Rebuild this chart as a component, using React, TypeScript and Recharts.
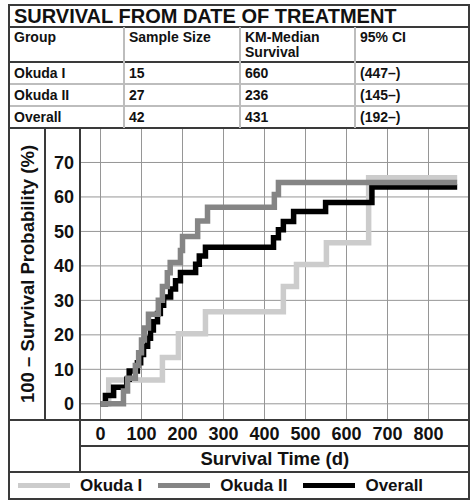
import React from 'react';
import { LineChart, Line, XAxis, YAxis, CartesianGrid } from 'recharts';

const FONT = '"Liberation Sans", Arial, Helvetica, sans-serif';

const titleText = 'SURVIVAL FROM DATE OF TREATMENT';
const tableHeaders = ['Group', 'Sample Size', 'KM-Median\nSurvival', '95% CI'];
const groups = ['Okuda I', 'Okuda II', 'Overall'];
const sampleSizes = ['15', '27', '42'];
const medians = ['660', '236', '431'];
const cis = ['(447–)', '(145–)', '(192–)'];

const okudaITimes = [0, 20, 151, 190, 256, 446, 478, 551, 654, 870];
const okudaIValues = [0, 6.9, 13.4, 20.3, 26.7, 34, 40.4, 46.7, 65.6, 65.6];

const okudaIITimes = [0, 56, 66, 85, 93, 100, 107, 117, 141, 151, 163, 170, 195, 200, 237, 261, 424, 434, 870];
const okudaIIValues = [0, 3.7, 7.4, 11.1, 14.8, 18.5, 22, 26, 30, 34, 38, 41, 44.5, 48.5, 53, 57, 60.7, 64.2, 64.2];

const overallTimes = [0, 12, 32, 64, 70, 90, 98, 105, 115, 122, 129, 139, 146, 154, 171, 183, 195, 232, 241, 256, 422, 434, 446, 471, 549, 662, 870];
const overallValues = [0, 2.4, 4.8, 7.1, 9.5, 11.9, 14.3, 16.7, 19, 21.4, 23.8, 26.2, 28.6, 31, 33.3, 35.7, 38.1, 40.5, 42.9, 45.4, 48.2, 50.5, 52.9, 55.8, 58.4, 62.9, 62.9];

const xTicks = [0, 100, 200, 300, 400, 500, 600, 700, 800];
const yTicks = [0, 10, 20, 30, 40, 50, 60, 70];

const seriesNames = ['Okuda I', 'Okuda II', 'Overall'];
const seriesColors = ['#cccccc', '#858585', '#000000'];

const zip = (ts: number[], vs: number[]) => ts.map((t, i) => ({ t, v: vs[i] }));
const okudaIData = zip(okudaITimes, okudaIValues);
const okudaIIData = zip(okudaIITimes, okudaIIValues);
const overallData = zip(overallTimes, overallValues);

const DARK = '#3a3a3a';
const LIGHT = '#bdbdbd';

const HL = ({ y, x1, x2, c = DARK, w = 1.5 }: any) => (
  <div style={{ position: 'absolute', left: x1, top: y - w / 2, width: x2 - x1, height: w, background: c }} />
);
const VL = ({ x, y1, y2, c = DARK, w = 1.5 }: any) => (
  <div style={{ position: 'absolute', left: x - w / 2, top: y1, width: w, height: y2 - y1, background: c }} />
);

const colX = [9, 124, 240, 355, 469];
const rowY = [62, 84, 106, 128];

const YLabel = (props: any) => {
  const vb = props.viewBox || {};
  const cx = vb.x + 18;
  const cy = vb.y + vb.height / 2;
  return (
    <text
      x={cx}
      y={cy}
      transform={`rotate(-90 ${cx} ${cy})`}
      textAnchor="middle"
      dominantBaseline="central"
      fontSize={18.5}
      fontWeight="bold"
      fill="#111"
      fontFamily={FONT}
    >
      100 – Survival Probability (%)
    </text>
  );
};

export default function App() {
  return (
    <div
      style={{
        position: 'absolute',
        left: 0,
        top: 0,
        width: 474,
        height: 503,
        background: '#fff',
        fontFamily: FONT,
        color: '#111',
        overflow: 'hidden',
      }}
    >
      <LineChart
        width={474}
        height={503}
        margin={{ top: 128, right: 4.5, bottom: 56, left: 9 }}
        style={{ position: 'absolute', left: 0, top: 0, fontFamily: FONT }}
      >
        <CartesianGrid stroke="#969696" strokeWidth={1} />
        <XAxis
          dataKey="t"
          type="number"
          domain={[-50, 900]}
          ticks={xTicks}
          height={27}
          axisLine={false}
          tickLine={false}
          tickSize={6}
          tickMargin={1}
          interval={0}
          tick={{ fontSize: 18, fontWeight: 'bold', fill: '#111', fontFamily: FONT }}
          label={{
            value: 'Survival Time (d)',
            position: 'bottom',
            offset: 5,
            fontSize: 18.5,
            fontWeight: 'bold',
            fill: '#111',
            fontFamily: FONT,
          }}
        />
        <YAxis
          type="number"
          domain={[-4.7, 80]}
          ticks={yTicks}
          width={71}
          axisLine={false}
          tickLine={false}
          tickSize={6}
          tickMargin={0}
          interval={0}
          tick={{ fontSize: 18, fontWeight: 'bold', fill: '#111', fontFamily: FONT }}
          label={{ content: YLabel }}
        />
        <Line data={okudaIData} dataKey="v" type="stepAfter" stroke={seriesColors[0]} strokeWidth={5.5} dot={false} activeDot={false} isAnimationActive={false} strokeLinejoin="miter" strokeLinecap="butt" name={seriesNames[0]} />
        <Line data={overallData} dataKey="v" type="stepAfter" stroke={seriesColors[2]} strokeWidth={5.5} dot={false} activeDot={false} isAnimationActive={false} strokeLinejoin="miter" strokeLinecap="butt" name={seriesNames[2]} />
        <Line data={okudaIIData} dataKey="v" type="stepAfter" stroke={seriesColors[1]} strokeWidth={5.5} dot={false} activeDot={false} isAnimationActive={false} strokeLinejoin="miter" strokeLinecap="butt" name={seriesNames[1]} />
      </LineChart>

      {/* title */}
      <div style={{ position: 'absolute', left: 14, top: 5, fontSize: 20, fontWeight: 'bold', lineHeight: '22px', whiteSpace: 'nowrap' }}>
        {titleText}
      </div>

      {/* table header */}
      {tableHeaders.map((h, i) => (
        <div
          key={'h' + i}
          style={{
            position: 'absolute',
            left: colX[i] + 5,
            top: 30,
            fontSize: 14,
            fontWeight: 'bold',
            lineHeight: '15px',
            whiteSpace: 'pre',
          }}
        >
          {h}
        </div>
      ))}
      {groups.map((g, r) =>
        [g, sampleSizes[r], medians[r], cis[r]].map((txt, c) => (
          <div
            key={'c' + r + '-' + c}
            style={{
              position: 'absolute',
              left: colX[c] + 5,
              top: rowY[r],
              height: 22,
              display: 'flex',
              alignItems: 'center',
              fontSize: 14,
              fontWeight: 'bold',
              whiteSpace: 'nowrap',
            }}
          >
            {txt}
          </div>
        ))
      )}

      {/* legend */}
      <div
        style={{
          position: 'absolute',
          left: 18,
          top: 472,
          height: 27,
          display: 'flex',
          alignItems: 'center',
          fontSize: 17,
          fontWeight: 'bold',
          whiteSpace: 'nowrap',
        }}
      >
        {seriesNames.map((n, i) => (
          <React.Fragment key={n}>
            <span style={{ display: 'inline-block', width: 52, height: 5, background: seriesColors[i], marginRight: 10 }} />
            <span style={{ marginRight: i < 2 ? 16 : 0 }}>{n}</span>
          </React.Fragment>
        ))}
      </div>

      {/* table lines */}
      <HL y={27} x1={9} x2={469} />
      <HL y={62} x1={9} x2={469} />
      <HL y={84} x1={9} x2={469} c={LIGHT} />
      <HL y={106} x1={9} x2={469} c={LIGHT} />
      <HL y={128} x1={9} x2={469} />
      <VL x={124} y1={27} y2={128} c={LIGHT} />
      <VL x={240} y1={27} y2={128} c={LIGHT} />
      <VL x={355} y1={27} y2={128} c={LIGHT} />

      {/* chart frame lines */}
      <VL x={45} y1={128} y2={420} />
      <VL x={80} y1={128} y2={472} />
      <HL y={420} x1={9} x2={469} />
      <HL y={446} x1={80} x2={469} />
      <HL y={472} x1={9} x2={469} />

      {/* outer border */}
      <div style={{ position: 'absolute', left: 8, top: 4, width: 462, height: 496, border: `2px solid ${DARK}`, boxSizing: 'border-box' }} />
    </div>
  );
}
